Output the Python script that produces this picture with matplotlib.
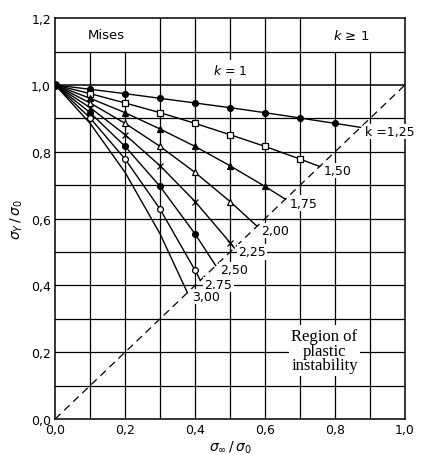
import matplotlib
matplotlib.use("Agg")
import matplotlib.pyplot as plt

# ---- data ----
k_labels = ["k =1,25", "1,50", "1,75", "2,00", "2,25", "2,50", "2,75", "3,00"]

x_125 = [0.0, 0.1, 0.2, 0.3, 0.4, 0.5, 0.6, 0.7, 0.8, 0.873]
y_125 = [1.0, 0.987, 0.974, 0.960, 0.946, 0.932, 0.917, 0.901, 0.885, 0.873]

x_150 = [0.0, 0.1, 0.2, 0.3, 0.4, 0.5, 0.6, 0.7, 0.756]
y_150 = [1.0, 0.974, 0.946, 0.917, 0.885, 0.851, 0.816, 0.778, 0.756]

x_175 = [0.0, 0.1, 0.2, 0.3, 0.4, 0.5, 0.6, 0.658]
y_175 = [1.0, 0.960, 0.917, 0.868, 0.816, 0.758, 0.696, 0.658]

x_200 = [0.0, 0.1, 0.2, 0.3, 0.4, 0.5, 0.577]
y_200 = [1.0, 0.946, 0.885, 0.816, 0.738, 0.651, 0.577]

x_225 = [0.0, 0.1, 0.2, 0.3, 0.4, 0.5, 0.512]
y_225 = [1.0, 0.932, 0.851, 0.758, 0.651, 0.528, 0.512]

x_250 = [0.0, 0.1, 0.2, 0.3, 0.4, 0.459]
y_250 = [1.0, 0.917, 0.816, 0.696, 0.554, 0.459]

x_275 = [0.0, 0.1, 0.2, 0.3, 0.4, 0.415]
y_275 = [1.0, 0.901, 0.778, 0.628, 0.445, 0.415]

x_300 = [0.0, 0.1, 0.2, 0.3, 0.378]
y_300 = [1.0, 0.885, 0.738, 0.554, 0.378]

x_k1 = [0.0, 1.0]
y_k1 = [1.0, 1.0]

diag = [0.0, 1.0]

xticks = [0.0, 0.2, 0.4, 0.6, 0.8, 1.0]
yticks = [0.0, 0.2, 0.4, 0.6, 0.8, 1.0, 1.2]
tick_fmt = lambda v: f"{v:.1f}".replace(".", ",")

# ---- figure ----
fig = plt.figure(figsize=(4.21, 4.56), dpi=100)
ax = fig.add_axes([0.131, 0.079, 0.831, 0.879])
ax.set_xlim(0, 1.0)
ax.set_ylim(0, 1.2)

lw_grid = 0.9
# horizontal grid
for yv in [0.1, 0.2, 0.3, 0.4, 0.5, 0.6, 0.7, 0.8, 0.9, 1.1]:
    ax.plot([0, 1], [yv, yv], color="black", lw=lw_grid, zorder=1)
# vertical grid (some stop at the top band)
for xv in [0.1, 0.2, 0.3, 0.4, 0.5, 0.6, 0.7, 0.8, 0.9]:
    top = 1.2 if 0.25 < xv < 0.75 else 1.1
    ax.plot([xv, xv], [0, top], color="black", lw=lw_grid, zorder=1)

for s in ax.spines.values():
    s.set_linewidth(1.1)

# diagonal
ax.plot(diag, diag, color="black", lw=0.9, ls=(0, (6, 4)), zorder=2)
# k = 1 line
ax.plot(x_k1, y_k1, color="black", lw=1.1, zorder=3)

series = [
    (x_125, y_125, "o", "black"),
    (x_150, y_150, "s", "white"),
    (x_175, y_175, "^", "black"),
    (x_200, y_200, "^", "white"),
    (x_225, y_225, "x", "black"),
    (x_250, y_250, "o", "black"),
    (x_275, y_275, "o", "white"),
    (x_300, y_300, None, "black"),
]
for (xs, ys, mk, fc), lab in zip(series, k_labels):
    ax.plot(xs, ys, color="black", lw=1.0, zorder=3)
    if mk is not None:
        ax.plot(xs[1:-1], ys[1:-1], ls="none", marker=mk, ms=4.2 if mk != "x" else 4.5,
                mfc=fc, mec="black", mew=0.9, zorder=4)
    ax.text(xs[-1] + 0.012, ys[-1] - 0.012, lab, ha="left", va="center",
            fontsize=9, zorder=5,
            bbox=dict(boxstyle="square,pad=0.1", fc="white", ec="none"))

ax.plot([0], [1.0], marker="o", ms=5.5, color="black", zorder=5)

ax.text(0.5, 1.045, "$k$ = 1", ha="center", va="center", fontsize=9, zorder=5,
        bbox=dict(boxstyle="square,pad=0.2", fc="white", ec="none"))
ax.text(0.145, 1.15, "Mises", ha="center", va="center", fontsize=9.5, zorder=5)
ax.text(0.845, 1.15, "$k$ ≥ 1", ha="center", va="center", fontsize=9.5, zorder=5)
ax.text(0.77, 0.205, "Region of\nplastic\ninstability", ha="center", va="center",
        fontsize=12, family="Liberation Serif", linespacing=0.9, zorder=5,
        bbox=dict(boxstyle="square,pad=0.15", fc="white", ec="none"))

ax.set_xticks(xticks)
ax.set_yticks(yticks)
ax.set_xticklabels([tick_fmt(v) for v in xticks], fontsize=9)
ax.set_yticklabels([tick_fmt(v) for v in yticks], fontsize=9)
ax.tick_params(length=0, pad=3)
ax.set_xlabel(r"$\sigma_{\infty}\,/\,\sigma_0$", fontsize=10, labelpad=2)
ax.set_ylabel(r"$\sigma_{Y}\,/\,\sigma_0$", fontsize=10, labelpad=4)

fig.savefig("out.png", dpi=100)
